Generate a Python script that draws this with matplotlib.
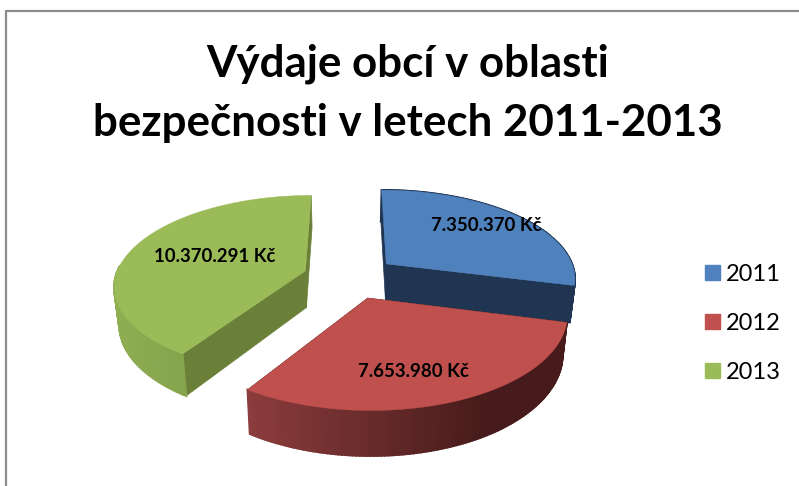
import numpy as np
import matplotlib
matplotlib.use('Agg')
import matplotlib.pyplot as plt
from matplotlib.patches import Patch
from matplotlib.colors import to_rgb

# spending per year (Kc)
years = ['2011', '2012', '2013']
values = [7350370, 7653980, 10370291]
value_labels = ['7.350.370 Kč', '7.653.980 Kč', '10.370.291 Kč']
title = 'Výdaje obcí v oblasti\nbezpečnosti v letech 2011-2013'

top_colors = ['#4f81bd', '#c0504d', '#9bbb59']
cut_colors = ['#1f3552', '#4a1c1c', '#6a8039']
rim_left = ['#1f3552', '#8c3c3c', '#8fae52']
rim_right = ['#1f3552', '#471b1b', '#7a9845']
label_pos = [(486, 225), (413, 371), (215, 256)]

# fake 3D pie: perspective projection of a tilted disc, in pixels
CX, CY = 350, 277
R, SQUASH, PERSP = 190, 88.5, 0.15
EXPLODE = 0.247
DEPTH, BOTTOM_SCALE = 37, 0.978


def project(x, y, bottom=False):
    f = 1 / (1 + PERSP * y)
    sx = x * R * f
    sy = -y * SQUASH * f
    if bottom:
        return CX + sx * BOTTOM_SCALE, CY + sy + DEPTH * f
    return CX + sx, CY + sy


def mix(c1, c2, t):
    a, b = np.array(to_rgb(c1)), np.array(to_rgb(c2))
    return tuple(a + (b - a) * t)


fig = plt.figure(figsize=(7.99, 4.86), dpi=100)
ax = fig.add_axes([0, 0, 1, 1])
ax.set_xlim(0, 799)
ax.set_ylim(486, 0)
ax.axis('off')

# outer frame, only top and left are in the picture
ax.plot([6, 6, 799], [486, 11, 11], color='#8c8c8c', lw=1.6)

edges = np.cumsum([0] + values) / sum(values) * 2 * np.pi

for i in range(3):
    a0, a1 = edges[i], edges[i + 1]
    mid = (a0 + a1) / 2
    ox, oy = EXPLODE * np.sin(mid), EXPLODE * np.cos(mid)
    ang = np.linspace(a0, a1, 120)
    px, py = ox + np.sin(ang), oy + np.cos(ang)

    # cut faces
    for a in (a0, a1):
        ex, ey = ox + np.sin(a), oy + np.cos(a)
        t1, t2 = project(ox, oy), project(ex, ey)
        b1, b2 = project(ox, oy, True), project(ex, ey, True)
        ax.fill([t1[0], t2[0], b2[0], b1[0]], [t1[1], t2[1], b2[1], b1[1]],
                color=cut_colors[i], lw=0.5)

    # outer rim, shaded piece by piece
    tx, ty = project(px, py)
    bx, by = project(px, py, True)
    xmin, xmax = tx.min(), tx.max()
    for j in range(len(ang) - 1):
        if np.cos(ang[j]) > 0.05 and i != 0:
            continue
        t = np.clip((tx[j] - xmin) / (xmax - xmin) / 0.75, 0, 1)
        ax.fill([tx[j], tx[j + 1], bx[j + 1], bx[j]],
                [ty[j], ty[j + 1], by[j + 1], by[j]],
                color=mix(rim_left[i], rim_right[i], t), lw=1.5)

    # top face
    ax.fill(np.r_[project(ox, oy)[0], tx], np.r_[project(ox, oy)[1], ty],
            color=top_colors[i], lw=0.3)

for lab, (lx, ly) in zip(value_labels, label_pos):
    ax.text(lx, ly, lab, ha='center', va='center', family='Lato',
            fontweight='bold', fontsize=13.4, color='black')

ax.text(407.5, 93.5, title, ha='center', va='center', family='Lato',
        fontweight='bold', fontsize=31.6, color='black', linespacing=1.57)

handles = [Patch(color=c, label=y) for c, y in zip(top_colors, years)]
ax.legend(handles=handles, loc='center left', bbox_to_anchor=(0.882, 0.335),
          frameon=False, prop={'family': 'Lato', 'size': 17},
          handlelength=0.63, handleheight=0.63, handletextpad=0.25,
          labelspacing=1.19, borderpad=0, borderaxespad=0)

fig.savefig('out.png', dpi=100)
